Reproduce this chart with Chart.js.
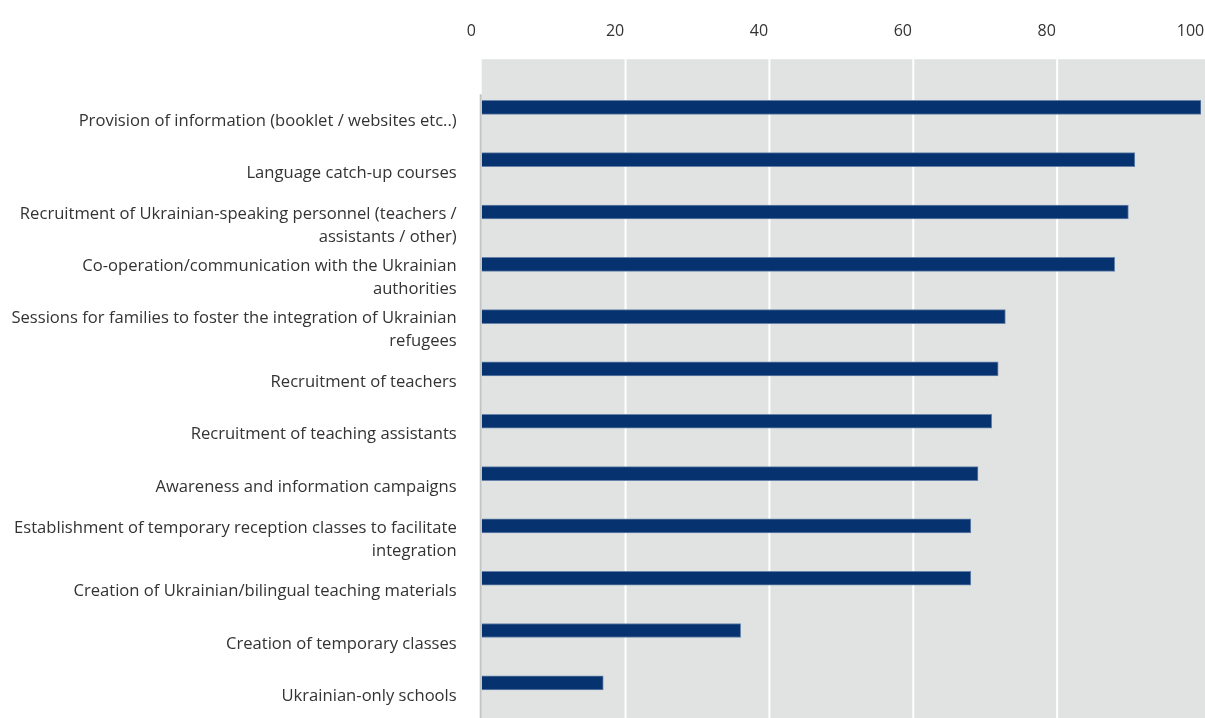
<!DOCTYPE html>
<html>
<head>
<meta charset="utf-8">
<title>Measures for Ukrainian refugee pupils</title>
<script src="https://cdn.jsdelivr.net/npm/chart.js@4.4.0/dist/chart.umd.min.js"></script>
<style>
    html, body { margin: 0; padding: 0; background: #ffffff; }
    #wrap { width: 1205px; height: 718px; }
</style>
</head>
<body>
<div id="wrap"><canvas id="measuresChart" width="1205" height="718"></canvas></div>
<script>
const categories = [
    'Provision of information (booklet / websites etc..)',
    'Language catch-up courses',
    ['Recruitment of Ukrainian-speaking personnel (teachers /', 'assistants / other)'],
    ['Co-operation/communication with the Ukrainian', 'authorities'],
    ['Sessions for families to foster the integration of Ukrainian', 'refugees'],
    'Recruitment of teachers',
    'Recruitment of teaching assistants',
    'Awareness and information campaigns',
    ['Establishment of temporary reception classes to facilitate', 'integration'],
    'Creation of Ukrainian/bilingual teaching materials',
    'Creation of temporary classes',
    'Ukrainian-only schools'
];
const shares = [100, 90.8, 89.9, 88, 72.8, 71.8, 70.9, 69, 68, 68, 36, 16.9];
const xTicks = [0, 20, 40, 60, 80, 100];

const textColor = '#333333';
const fontFamily = '"Open Sans", "Noto Sans", sans-serif';

// Grey panel, white gridlines and the left axis line
const panelPlugin = {
    id: 'panel',
    beforeDatasetsDraw(chart) {
        const { ctx, chartArea, scales } = chart;
        const top = chartArea.top - 22;
        ctx.save();
        ctx.fillStyle = '#e1e3e3';
        ctx.fillRect(chartArea.left, top, chart.width - chartArea.left, chart.height - top);

        ctx.strokeStyle = '#ffffff';
        ctx.lineWidth = 2;
        xTicks.slice(1, -1).forEach(v => {
            const x = scales.x.getPixelForValue(v);
            ctx.beginPath();
            ctx.moveTo(x, top);
            ctx.lineTo(x, chart.height);
            ctx.stroke();
        });

        ctx.strokeStyle = '#c2c4c4';
        ctx.beginPath();
        ctx.moveTo(chartArea.left - 1, chartArea.top + 13);
        ctx.lineTo(chartArea.left - 1, chart.height);
        ctx.stroke();
        ctx.restore();
    }
};

new Chart(document.getElementById('measuresChart'), {
    type: 'bar',
    data: {
        labels: categories,
        datasets: [{
            data: shares,
            backgroundColor: '#06336f',
            borderColor: '#6682a8',
            borderWidth: 1,
            barThickness: 14
        }]
    },
    options: {
        indexAxis: 'y',
        responsive: false,
        animation: false,
        layout: { padding: { top: 20, right: 4, bottom: 9, left: 0 } },
        plugins: {
            legend: { display: false },
            tooltip: { enabled: false }
        },
        scales: {
            x: {
                position: 'top',
                min: 0,
                max: 100,
                grid: { display: false, drawTicks: false },
                border: { display: false },
                afterBuildTicks: axis => { axis.ticks = xTicks.map(v => ({ value: v })); },
                afterFit: axis => {
                    axis.height = 61.2;
                    axis.paddingLeft = 0;
                    axis.paddingRight = 0;
                },
                ticks: {
                    color: textColor,
                    font: { family: fontFamily, size: 16, lineHeight: 1.2 },
                    padding: 40,
                    labelOffset: -10.5
                }
            },
            y: {
                grid: { display: false, drawTicks: false },
                border: { display: false },
                afterFit: axis => {
                    axis.width = 481.7;
                    axis.paddingTop = 0;
                    axis.paddingBottom = 0;
                },
                ticks: {
                    color: textColor,
                    font: { family: fontFamily, size: 16.6, lineHeight: 1.39 },
                    padding: 25,
                    labelOffset: 13.5,
                    autoSkip: false
                }
            }
        }
    },
    plugins: [panelPlugin]
});
</script>
</body>
</html>
